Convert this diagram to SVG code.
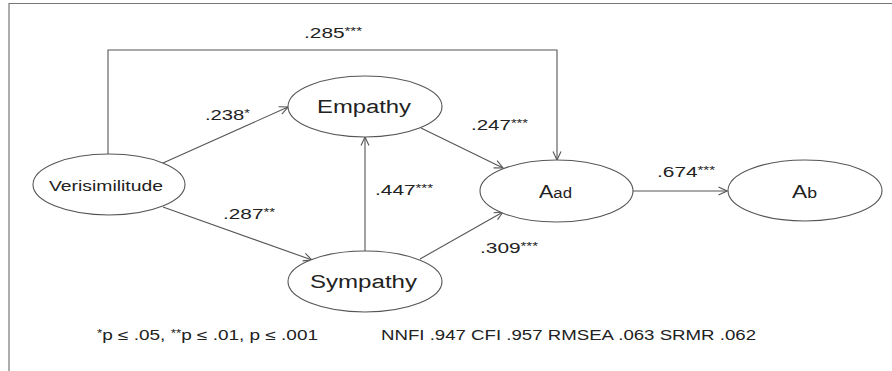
<svg xmlns="http://www.w3.org/2000/svg" width="892" height="371" viewBox="0 0 892 371">
<style>
text{font-family:"Liberation Sans",Arial,sans-serif;fill:#222}
.node{fill:#fff;stroke:#555;stroke-width:1.1}
.conn{fill:none;stroke:#555;stroke-width:1.1;marker-end:url(#arr)}
.lbl{font-size:14px}
.sup{font-size:10px}
.frame{fill:none;stroke:#777;stroke-width:1.2}
</style>
<defs>
<marker id="arr" viewBox="0 0 10 10" refX="9.5" refY="5" markerWidth="10" markerHeight="10" markerUnits="userSpaceOnUse" orient="auto">
<path d="M1,1 L9.5,5 L1,9" fill="none" stroke="#555" stroke-width="1.1"/>
</marker>
</defs>
<rect width="892" height="371" fill="#fff"/>
<path class="frame" d="M9,371 V3.5 H892"/>
<g id="connectors">
<path class="conn" d="M108,154 V50 H557 V160"/>
<path class="conn" d="M163,163 L288,107"/>
<path class="conn" d="M163,207 L312,260"/>
<path class="conn" d="M365,251 V137"/>
<path class="conn" d="M421,128 L503,168"/>
<path class="conn" d="M420,259 L503,212"/>
<path class="conn" d="M633,191 H727"/>
</g>
<g id="node-verisimilitude">
<ellipse class="node" cx="109" cy="184.5" rx="76" ry="30.5"/>
<text x="49" y="190.5" font-size="14" textLength="114" lengthAdjust="spacingAndGlyphs">Verisimilitude</text>
</g>
<g id="node-empathy">
<ellipse class="node" cx="365" cy="106.5" rx="77" ry="30.5"/>
<text x="317" y="113" font-size="18" textLength="94" lengthAdjust="spacingAndGlyphs">Empathy</text>
</g>
<g id="node-sympathy">
<ellipse class="node" cx="365" cy="281.5" rx="77" ry="30.5"/>
<text x="310" y="288" font-size="18" textLength="107" lengthAdjust="spacingAndGlyphs">Sympathy</text>
</g>
<g id="node-aad">
<ellipse class="node" cx="556.5" cy="191" rx="76.5" ry="31"/>
<text x="539" y="197.5" font-size="18" textLength="33" lengthAdjust="spacingAndGlyphs">A<tspan font-size="14">ad</tspan></text>
</g>
<g id="node-ab">
<ellipse class="node" cx="805" cy="190.5" rx="77" ry="30.5"/>
<text x="792" y="197.5" font-size="18" textLength="25" lengthAdjust="spacingAndGlyphs">A<tspan font-size="14">b</tspan></text>
</g>
<g id="labels">
<text class="lbl" x="304" y="38" textLength="58" lengthAdjust="spacingAndGlyphs">.285<tspan class="sup" dy="-3">***</tspan></text>
<text class="lbl" x="205" y="120" textLength="45" lengthAdjust="spacingAndGlyphs">.238<tspan class="sup" dy="-3">*</tspan></text>
<text class="lbl" x="375" y="195" textLength="58" lengthAdjust="spacingAndGlyphs">.447<tspan class="sup" dy="-3">***</tspan></text>
<text class="lbl" x="223" y="219" textLength="52" lengthAdjust="spacingAndGlyphs">.287<tspan class="sup" dy="-3">**</tspan></text>
<text class="lbl" x="471" y="130" textLength="57" lengthAdjust="spacingAndGlyphs">.247<tspan class="sup" dy="-3">***</tspan></text>
<text class="lbl" x="657" y="177" textLength="58" lengthAdjust="spacingAndGlyphs">.674<tspan class="sup" dy="-3">***</tspan></text>
<text class="lbl" x="480" y="253" textLength="58" lengthAdjust="spacingAndGlyphs">.309<tspan class="sup" dy="-3">***</tspan></text>
<text class="lbl" x="97" y="340" textLength="221" lengthAdjust="spacingAndGlyphs"><tspan class="sup" dy="-3">*</tspan><tspan dy="3">p ≤ .05, </tspan><tspan class="sup" dy="-3">**</tspan><tspan dy="3">p ≤ .01, p ≤ .001</tspan></text>
<text class="lbl" x="381" y="340" textLength="375" lengthAdjust="spacingAndGlyphs">NNFI .947 CFI .957 RMSEA .063 SRMR .062</text>
</g>
</svg>
